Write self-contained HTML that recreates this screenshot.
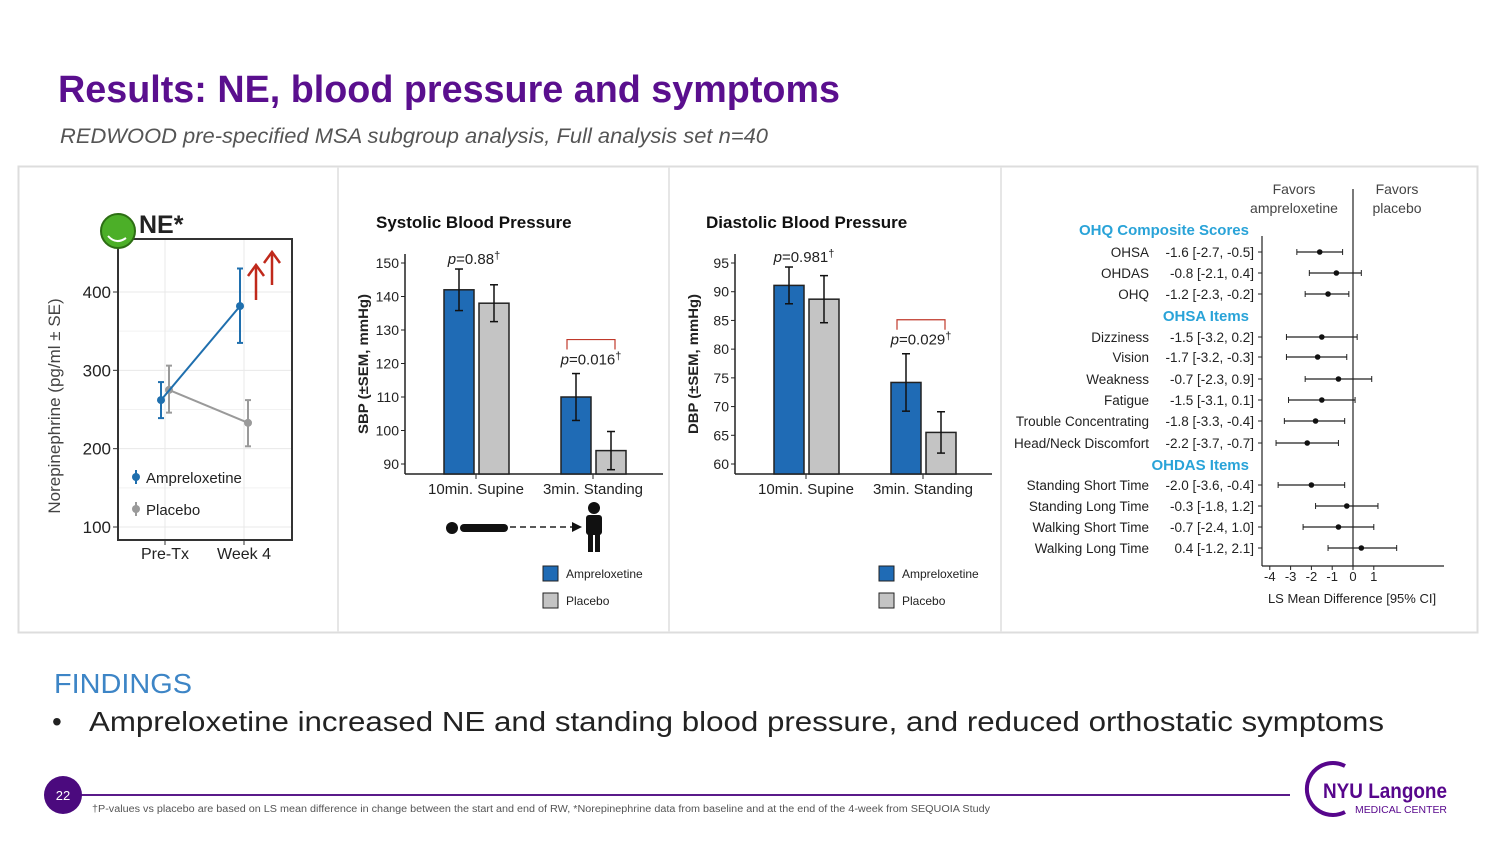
<!DOCTYPE html>
<html><head><meta charset="utf-8"><style>
body{margin:0;background:#fff;}
svg{display:block;font-family:"Liberation Sans",sans-serif;}
</style></head><body>
<svg id="s" width="1500" height="844" viewBox="0 0 1500 844">
<text x="58" y="102" font-size="38" font-weight="bold" fill="#5a0f8e" textLength="782" lengthAdjust="spacingAndGlyphs">Results: NE, blood pressure and symptoms</text>
<text x="60" y="143" font-size="21" font-style="italic" fill="#555" textLength="708" lengthAdjust="spacingAndGlyphs">REDWOOD pre-specified MSA subgroup analysis, Full analysis set n=40</text>
<rect x="18.5" y="166.5" width="1459" height="466" fill="none" stroke="#ddd" stroke-width="2"/>
<line x1="338" y1="167" x2="338" y2="632" stroke="#e6e6e6" stroke-width="2"/>
<line x1="669" y1="167" x2="669" y2="632" stroke="#e6e6e6" stroke-width="2"/>
<line x1="1001" y1="167" x2="1001" y2="632" stroke="#e6e6e6" stroke-width="2"/>

<g id="ne"></g>
<g id="sbp"></g>
<g id="dbp"></g>
<g id="forest"></g>

<text x="54" y="693" font-size="28" fill="#3d85c6" textLength="138" lengthAdjust="spacingAndGlyphs">FINDINGS</text>
<text x="52" y="731" font-size="28" fill="#222">•</text>
<text x="89" y="731" font-size="28" fill="#222" textLength="1295" lengthAdjust="spacingAndGlyphs">Ampreloxetine increased NE and standing blood pressure, and reduced orthostatic symptoms</text>

<line x1="80" y1="795" x2="1290" y2="795" stroke="#5a1a8a" stroke-width="2"/>
<circle cx="63" cy="795" r="19" fill="#4b0a7e"/>
<text x="63" y="800" font-size="13" fill="#fff" text-anchor="middle">22</text>
<text x="92" y="812" font-size="10" fill="#555" textLength="898" lengthAdjust="spacingAndGlyphs">†P-values vs placebo are based on LS mean difference in change between the start and end of RW, *Norepinephrine data from baseline and at the end of the 4-week from SEQUOIA Study</text>
<g>
<path d="M1345 766 A26 26 0 1 0 1345 812" fill="none" stroke="#57068c" stroke-width="4"/>
<text x="1323" y="798" font-size="21" font-weight="bold" fill="#57068c" textLength="124" lengthAdjust="spacingAndGlyphs">NYU Langone</text>
<text x="1355" y="813" font-size="10" fill="#57068c" textLength="92" lengthAdjust="spacingAndGlyphs">MEDICAL CENTER</text>
</g>
</svg>
<script>
const NS="http://www.w3.org/2000/svg";
function el(p,t,a,txt){const e=document.createElementNS(NS,t);for(const k in a)e.setAttribute(k,a[k]);if(txt!==undefined)e.textContent=txt;p.appendChild(e);return e;}

/* ---------- NE chart data ---------- */
const neTimes=["Pre-Tx","Week 4"];
const neTicks=[100,200,300,400];
const neAmp=[262,382];
const neAmpLo=[239,335];
const neAmpHi=[285,430];
const nePlc=[275,233];
const nePlcLo=[246,203];
const nePlcHi=[306,262];

/* ---------- SBP / DBP data ---------- */
const bpCats=["10min. Supine","3min. Standing"];
const sbpTicks=[90,100,110,120,130,140,150];
const sbpAmp=[142,110];
const sbpAmpSE=[6.2,7];
const sbpPlc=[138,94];
const sbpPlcSE=[5.5,5.7];
const sbpP=["0.88","0.016"];
const dbpTicks=[60,65,70,75,80,85,90,95];
const dbpAmp=[91.1,74.2];
const dbpAmpSE=[3.2,5];
const dbpPlc=[88.7,65.5];
const dbpPlcSE=[4.1,3.6];
const dbpP=["0.981","0.029"];

/* ---------- Forest data ---------- */
const fLabels=["OHSA","OHDAS","OHQ","Dizziness","Vision","Weakness","Fatigue","Trouble Concentrating","Head/Neck Discomfort","Standing Short Time","Standing Long Time","Walking Short Time","Walking Long Time"];
const fEst=[-1.6,-0.8,-1.2,-1.5,-1.7,-0.7,-1.5,-1.8,-2.2,-2.0,-0.3,-0.7,0.4];
const fLo=[-2.7,-2.1,-2.3,-3.2,-3.2,-2.3,-3.1,-3.3,-3.7,-3.6,-1.8,-2.4,-1.2];
const fHi=[-0.5,0.4,-0.2,0.2,-0.3,0.9,0.1,-0.4,-0.7,-0.4,1.2,1.0,2.1];
const fTicks=[-4,-3,-2,-1,0,1];

/* NE chart */
(function(){
const g=document.getElementById('ne');
const y=v=>527-(v-100)*235/300;
const xc=i=>165+i*79;
for(const t of neTicks){el(g,'line',{x1:118,x2:292,y1:y(t),y2:y(t),stroke:'#e8e8e8'});}
for(const v of [150,250,350]){el(g,'line',{x1:118,x2:292,y1:y(v),y2:y(v),stroke:'#f2f2f2'});}
neTimes.forEach((c,i)=>{el(g,'line',{x1:xc(i),x2:xc(i),y1:239,y2:540,stroke:'#e8e8e8'});});
el(g,'rect',{x:118,y:239,width:174,height:301,fill:'none',stroke:'#333','stroke-width':2});
for(const t of neTicks){el(g,'line',{x1:113,x2:118,y1:y(t),y2:y(t),stroke:'#333'});
 const tx=el(g,'text',{x:111,y:y(t)+6,'font-size':17,'text-anchor':'end',fill:'#222'},t);
 
 }
neTimes.forEach((c,i)=>{el(g,'line',{x1:xc(i),x2:xc(i),y1:540,y2:545,stroke:'#333'});
 const tx=el(g,'text',{x:xc(i),y:559,'font-size':16,'text-anchor':'middle',fill:'#222'},c);
 
 });
const yl=el(g,'text',{transform:'translate(60,406) rotate(-90)','font-size':17,'text-anchor':'middle',fill:'#444'},'Norepinephrine (pg/ml ± SE)');


function series(vals,lo,hi,dx,col,name){
 const pts=vals.map((v,i)=>(xc(i)+dx)+','+y(v)).join(' ');
 const l=el(g,'polyline',{points:pts,fill:'none',stroke:col,'stroke-width':2});
 
 
 vals.forEach((v,i)=>{const x=xc(i)+dx;
  el(g,'line',{x1:x,x2:x,y1:y(lo[i]),y2:y(hi[i]),stroke:col,'stroke-width':2});
  el(g,'line',{x1:x-3,x2:x+3,y1:y(lo[i]),y2:y(lo[i]),stroke:col,'stroke-width':2});
  el(g,'line',{x1:x-3,x2:x+3,y1:y(hi[i]),y2:y(hi[i]),stroke:col,'stroke-width':2});
  const c=el(g,'circle',{cx:x,cy:y(v),r:4,fill:col});
  
  });
}
series(nePlc,nePlcLo,nePlcHi,4,'#9a9a9a','placebo');
series(neAmp,neAmpLo,neAmpHi,-4,'#1f6fae','ampreloxetine');
el(g,'line',{x1:136,x2:136,y1:470,y2:484,stroke:'#1f6fae','stroke-width':2});el(g,'circle',{cx:136,cy:477,r:4,fill:'#1f6fae'});
const l1=el(g,'text',{x:146,y:483,'font-size':15,fill:'#222'},'Ampreloxetine');


el(g,'line',{x1:136,x2:136,y1:502,y2:516,stroke:'#9a9a9a','stroke-width':2});el(g,'circle',{cx:136,cy:509,r:4,fill:'#9a9a9a'});
const l2=el(g,'text',{x:146,y:515,'font-size':15,fill:'#222'},'Placebo');


el(g,'circle',{cx:118,cy:231,r:17,fill:'#4caf28',stroke:'#2d6e14','stroke-width':2});
el(g,'path',{d:'M108 236 Q116 245 126 238',fill:'none',stroke:'#fff','stroke-width':2});
const nt=el(g,'text',{x:139,y:233,'font-size':25,'font-weight':'bold',fill:'#222'},'NE*');


for(const [ax,top,bot] of [[256,265,300],[272,252,285]]){
 el(g,'line',{x1:ax,x2:ax,y1:top,y2:bot,stroke:'#c0291b','stroke-width':2.5});
 el(g,'polyline',{points:(ax-8)+','+(top+11)+' '+ax+','+top+' '+(ax+8)+','+(top+11),fill:'none',stroke:'#c0291b','stroke-width':2.5});
}
})();

/* Bar charts */
function barChart(id,ax,title,ticks,vmin,vmax,amp,ampSE,plc,plcSE,pv,ylab,axRight,lx){
 const g=document.getElementById(id);
 const y=v=>464-(v-vmin)*201/(vmax-vmin);
 const cx=i=>ax+71+i*117;
 const t=el(g,'text',{x:ax-29,y:228,'font-size':17,'font-weight':'bold',fill:'#111'},title);
 
 
 el(g,'line',{x1:ax,x2:ax,y1:254,y2:474,stroke:'#222','stroke-width':1.5});
 el(g,'line',{x1:ax,x2:axRight,y1:474,y2:474,stroke:'#222','stroke-width':1.5});
 for(const tk of ticks){el(g,'line',{x1:ax-4,x2:ax,y1:y(tk),y2:y(tk),stroke:'#222'});
  const tx=el(g,'text',{x:ax-6,y:y(tk)+5,'font-size':14,'text-anchor':'end',fill:'#222'},tk);
  
  }
 const yl=el(g,'text',{transform:'translate('+(ax-37)+',364) rotate(-90)','font-size':14,'font-weight':'bold','text-anchor':'middle',fill:'#222',textLength:140,lengthAdjust:'spacingAndGlyphs'},ylab);
 
 
 bpCats.forEach((c,i)=>{
  el(g,'line',{x1:cx(i),x2:cx(i),y1:474,y2:479,stroke:'#222'});
  const tx=el(g,'text',{x:cx(i),y:494,'font-size':15,'text-anchor':'middle',fill:'#222'},c);
  
  
  const bars=[[amp[i],ampSE[i],cx(i)-32,'#1f6bb5'],[plc[i],plcSE[i],cx(i)+3,'#c4c4c4']];
  bars.forEach((b,k)=>{
   const r=el(g,'rect',{x:b[2],y:y(b[0]),width:30,height:474-y(b[0]),fill:b[3],stroke:'#222','stroke-width':1.5});
   
   
   const mx=b[2]+15;
   el(g,'line',{x1:mx,x2:mx,y1:y(b[0]+b[1]),y2:y(b[0]-b[1]),stroke:'#111','stroke-width':1.5});
   el(g,'line',{x1:mx-4,x2:mx+4,y1:y(b[0]+b[1]),y2:y(b[0]+b[1]),stroke:'#111','stroke-width':1.5});
   el(g,'line',{x1:mx-4,x2:mx+4,y1:y(b[0]-b[1]),y2:y(b[0]-b[1]),stroke:'#111','stroke-width':1.5});
  });
  const top=y(Math.max(amp[i]+ampSE[i],plc[i]+plcSE[i]));
  let py;
  if(i===1){
   const by=top-34;
   el(g,'polyline',{points:(cx(i)-26)+','+(by+10)+' '+(cx(i)-26)+','+by+' '+(cx(i)+22)+','+by+' '+(cx(i)+22)+','+(by+10),fill:'none',stroke:'#c0392b','stroke-width':1.2});
   py=by+25;
  } else py=top-5;
  const p=el(g,'text',{x:cx(i)-2,y:py,'font-size':15,'text-anchor':'middle',fill:'#222'});
  el(p,'tspan',{'font-style':'italic'},'p');el(p,'tspan',{},'='+pv[i]);el(p,'tspan',{'font-size':11,dy:-5},'†');
  
  
 });
 el(g,'rect',{x:lx,y:566,width:15,height:15,fill:'#1f6bb5',stroke:'#222'});
 const a=el(g,'text',{x:lx+23,y:578,'font-size':12,fill:'#222'},'Ampreloxetine');
 
 
 el(g,'rect',{x:lx,y:593,width:15,height:15,fill:'#c4c4c4',stroke:'#222'});
 const b=el(g,'text',{x:lx+23,y:605,'font-size':12,fill:'#222'},'Placebo');
 
 
}
barChart('sbp',405,'Systolic Blood Pressure',sbpTicks,90,150,sbpAmp,sbpAmpSE,sbpPlc,sbpPlcSE,sbpP,'SBP (±SEM, mmHg)',663,543);
barChart('dbp',735,'Diastolic Blood Pressure',dbpTicks,60,95,dbpAmp,dbpAmpSE,dbpPlc,dbpPlcSE,dbpP,'DBP (±SEM, mmHg)',992,879);

/* supine -> standing figure */
(function(){
 const g=el(document.getElementById('sbp'),'g',{});
 
 
 el(g,'circle',{cx:452,cy:528,r:6,fill:'#111'});
 el(g,'rect',{x:460,y:524,width:48,height:8,rx:4,fill:'#111'});
 el(g,'line',{x1:510,x2:572,y1:527,y2:527,stroke:'#222','stroke-width':1.5,'stroke-dasharray':'6,4'});
 el(g,'polygon',{points:'572,522 582,527 572,532',fill:'#111'});
 el(g,'circle',{cx:594,cy:508,r:6,fill:'#111'});
 el(g,'rect',{x:586,y:515,width:16,height:20,rx:3,fill:'#111'});
 el(g,'rect',{x:588,y:532,width:5,height:20,fill:'#111'});
 el(g,'rect',{x:595,y:532,width:5,height:20,fill:'#111'});
})();

/* Forest plot */
(function(){
 const g=document.getElementById('forest');
 const x=v=>1353+v*20.8;
 const rowY=[252,273,294,337,357,379,400,421,443,485,506,527,548];
 const estTxt=["-1.6 [-2.7, -0.5]","-0.8 [-2.1,  0.4]","-1.2 [-2.3, -0.2]","-1.5 [-3.2,  0.2]","-1.7 [-3.2, -0.3]","-0.7 [-2.3,  0.9]","-1.5 [-3.1,  0.1]","-1.8 [-3.3, -0.4]","-2.2 [-3.7, -0.7]","-2.0 [-3.6, -0.4]","-0.3 [-1.8,  1.2]","-0.7 [-2.4,  1.0]"," 0.4 [-1.2,  2.1]"];
 el(g,'line',{x1:1262,x2:1262,y1:236,y2:566,stroke:'#222','stroke-width':1.2});
 el(g,'line',{x1:1262,x2:1444,y1:566,y2:566,stroke:'#222','stroke-width':1.2});
 el(g,'line',{x1:x(0),x2:x(0),y1:189,y2:566,stroke:'#222','stroke-width':1.2});
 for(const t of fTicks){el(g,'line',{x1:x(t),x2:x(t),y1:566,y2:570,stroke:'#222'});
  const tx=el(g,'text',{x:x(t),y:581,'font-size':13,'text-anchor':'middle',fill:'#222'},t);
  
  }
 const xt=el(g,'text',{x:1352,y:603,'font-size':13,'text-anchor':'middle',fill:'#222'},'LS Mean Difference [95% CI]');
 
 
 el(g,'text',{x:1294,y:194,'font-size':14,'text-anchor':'middle',fill:'#444'},'Favors');
 el(g,'text',{x:1294,y:213,'font-size':14,'text-anchor':'middle',fill:'#444'},'ampreloxetine');
 el(g,'text',{x:1397,y:194,'font-size':14,'text-anchor':'middle',fill:'#444'},'Favors');
 el(g,'text',{x:1397,y:213,'font-size':14,'text-anchor':'middle',fill:'#444'},'placebo');
 [["OHQ Composite Scores",234],["OHSA Items",320],["OHDAS Items",469]].forEach(h=>{
  const t=el(g,'text',{x:1249,y:h[1]+1,'font-size':15,'font-weight':'bold','text-anchor':'end',fill:'#29a3d8'},h[0]);
  
  });
 fLabels.forEach((lab,i)=>{
  const yy=rowY[i];
  const a=el(g,'text',{x:1149,y:yy+5,'font-size':13.5,'text-anchor':'end',fill:'#222'},lab);
  
  
  const b=el(g,'text',{x:1254,y:yy+5,'font-size':13.5,'text-anchor':'end',fill:'#222','xml:space':'preserve'},estTxt[i]);
  
  
  el(g,'line',{x1:1258,x2:1262,y1:yy,y2:yy,stroke:'#222'});
  const ci=el(g,'line',{x1:x(fLo[i]),x2:x(fHi[i]),y1:yy,y2:yy,stroke:'#222','stroke-width':1.2});
  
  
  el(g,'line',{x1:x(fLo[i]),x2:x(fLo[i]),y1:yy-3,y2:yy+3,stroke:'#222'});
  el(g,'line',{x1:x(fHi[i]),x2:x(fHi[i]),y1:yy-3,y2:yy+3,stroke:'#222'});
  const p=el(g,'circle',{cx:x(fEst[i]),cy:yy,r:2.8,fill:'#111'});
  
  
 });
})();
</script>
</body></html>
